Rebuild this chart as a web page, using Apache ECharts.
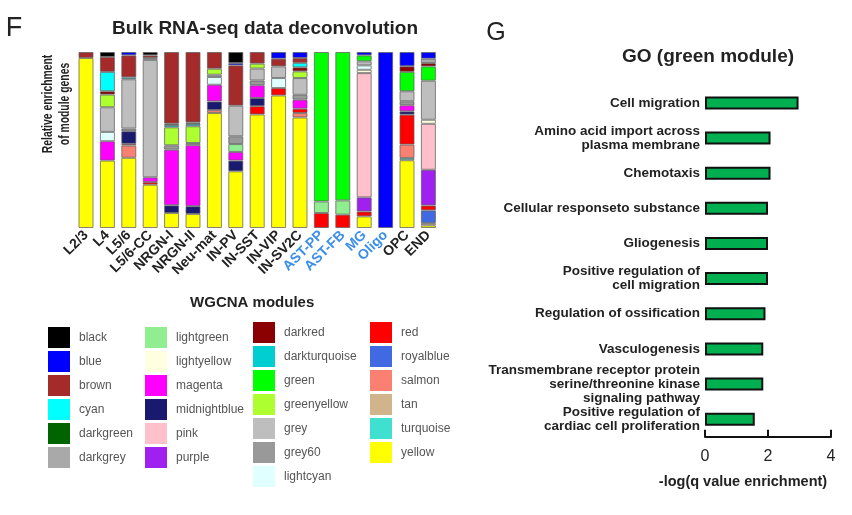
<!DOCTYPE html>
<html><head><meta charset="utf-8">
<script src="https://cdn.jsdelivr.net/npm/echarts@6/dist/echarts.min.js"></script>
<style>html,body{margin:0;padding:0;background:#fff}#c{width:852px;height:515px}</style>
</head><body><div id="c"></div>
<script>
// ---- Panel F data: relative enrichment (%) of each WGCNA module per cell type ----
const cellTypes = ['L2/3','L4','L5/6','L5/6-CC','NRGN-I','NRGN-II','Neu-mat','IN-PV','IN-SST','IN-VIP','IN-SV2C','AST-PP','AST-FB','MG','Oligo','OPC','END'];
const glialLabels = ['AST-PP','AST-FB','MG','Oligo'];
//                    L2/3  L4   L5/6 L5/6CC NRGN-I NRGN-II Neu  PV   SST  VIP  SV2C AST-PP AST-FB MG  Oligo OPC  END
const black         = [0,   2.8, 0,   1.9,  0,     0,      0,   6.3, 0,   0,   0,   0,     0,     0,   0,    0,   0];
const blue          = [0,   0,   1.9, 0,    0,     0,      0,   1.3, 0,   3.8, 3.4, 0,     0,     1.9, 100,  8.1, 3.8];
const brown         = [3.4, 8.5, 12.5,1.5,  40.7,  40.0,   9.5, 22.9,6.6, 4.4, 2.8, 0,     0,     0,   0,    0,   0];
const cyan          = [0,   11.0,0,   0,    0,     0,      0,   0,   0,   0,   2.5, 0,     0,     0,   0,    0,   0];
const darkgreen     = [0,   0,   0,   0,    0.8,   0.9,    0,   0,   0,   0,   0,   0,     0,     0,   0,    0,   0];
const darkgrey      = [0,   0,   0,   1.1,  0,     0,      0,   0,   0,   0,   0,   0,     0,     0,   0,    0,   2.5];
const darkred       = [0,   1.9, 0,   0,    0,     0,      0,   0,   0,   0,   2.3, 0,     0,     0,   0,    3.2, 1.9];
const darkturquoise = [0,   0,   1.1, 0,    1.3,   1.3,    0,   0,   0,   0,   0,   0,     0,     0,   0,    0,   0];
const green         = [0,   0,   0,   0,    0,     0,      0,   0,   0,   0,   0,   84.9,  84.3,  3.4, 0,    11.0,8.1];
const greenyellow   = [0,   7.2, 0,   0,    10.2,  9.5,    3.4, 0,   2.8, 0,   3.8, 0,     0,     0,   0,    0,   0];
const grey          = [0,   14.0,28.0,66.7, 0,     0,      1.3, 17.4,6.8, 6.6, 9.5, 0,     0,     2.3, 0,    5.7, 22.2];
const grey60        = [0,   0,   1.5, 0,    2.5,   1.3,    0,   4.4, 2.7, 0,   2.8, 0,     0,     0,   0,    2.3, 0];
const lightcyan     = [0,   5.3, 0,   0,    0,     0,      4.4, 0,   0,   5.7, 0,   0,     0,     2.5, 0,    0,   0];
const lightgreen    = [0,   0,   0,   0,    0,     0,      0,   4.5, 0,   0,   0,   6.6,   8.1,   0,   0,    0,   0];
const lightyellow   = [0,   0,   0,   0,    0,     0,      0,   0,   0,   0,   0,   0,     0,     1.9, 0,    0,   2.3];
const magenta       = [0,   11.0,0,   2.7,  31.6,  34.6,   9.5, 4.9, 7.2, 0,   5.1, 0,     0,     0,   0,    3.4, 0];
const midnightblue  = [0,   0,   7.2, 0,    4.4,   4.4,    4.9, 6.1, 4.7, 0,   0,   0,     0,     0,   0,    1.9, 0];
const pink          = [0,   0,   0,   0,    0,     0,      0,   0,   0,   0,   0,   0,     0,     70.6,0,    0,   26.1];
const purple        = [0,   0,   0,   0,    0,     0,      0,   0,   0,   0,   0,   0,     0,     8.0, 0,    0,   20.3];
const red           = [0,   0,   0.9, 1.5,  0,     0,      0,   0,   4.7, 4.2, 2.5, 8.5,   7.6,   2.8, 0,    17.0,2.8];
const royalblue     = [0,   0,   0,   0,    0,     0,      0,   0,   0,   0,   0,   0,     0,     0,   0,    0,   7.2];
const salmon        = [0,   0,   7.0, 0,    0,     0,      1.7, 0,   0,   0,   2.5, 0,     0,     0,   0,    7.6, 0];
const tan           = [0,   0,   0,   0,    0,     0,      0,   0,   0,   0,   0,   0,     0,     0,   0,    0,   1.3];
const turquoise     = [0,   0,   0,   0,    0,     0,      0,   0,   0,   0,   0,   0,     0,     0,   0,    1.3, 0];
const yellow        = [96.6,38.3,39.9,24.6, 8.5,   8.0,    65.3,32.2,64.5,75.3,62.8,0,     0,     6.6, 0,    38.5,1.5];

const moduleNames = ['black','blue','brown','cyan','darkgreen','darkgrey','darkred','darkturquoise','green','greenyellow','grey','grey60','lightcyan','lightgreen','lightyellow','magenta','midnightblue','pink','purple','red','royalblue','salmon','tan','turquoise','yellow'];
const moduleColors = ['#000000','#0000FF','#A52A2A','#00FFFF','#006400','#A9A9A9','#8B0000','#00CED1','#00FF00','#ADFF2F','#BEBEBE','#999999','#E0FFFF','#90EE90','#FFFFE0','#FF00FF','#191970','#FFC0CB','#A020F0','#FF0000','#4169E1','#FA8072','#D2B48C','#40E0D0','#FFFF00'];
const legendCol1 = ['black','blue','brown','cyan','darkgreen','darkgrey'];
const legendCol2 = ['lightgreen','lightyellow','magenta','midnightblue','pink','purple'];
const legendCol3 = ['darkred','darkturquoise','green','greenyellow','grey','grey60','lightcyan'];
const legendCol4 = ['red','royalblue','salmon','tan','turquoise','yellow'];

// ---- Panel G data ----
const goTerms = ['Cell migration','Amino acid import across\nplasma membrane','Chemotaxis','Cellular responseto substance','Gliogenesis','Positive regulation of\ncell migration','Regulation of ossification','Vasculogenesis','Transmembrane receptor protein\nserine/threonine kinase\nsignaling pathway','Positive regulation of\ncardiac cell proliferation'];
const goValues = [2.97, 2.08, 2.08, 2.0, 2.0, 2.0, 1.92, 1.85, 1.85, 1.58];

const moduleData = {black,blue,brown,cyan,darkgreen,darkgrey,darkred,darkturquoise,green,greenyellow,grey,grey60,lightcyan,lightgreen,lightyellow,magenta,midnightblue,pink,purple,red,royalblue,salmon,tan,turquoise,yellow};

const FONT = "'Liberation Sans', Arial, Helvetica, sans-serif";
const chart = echarts.init(document.getElementById('c'), null, {renderer:'canvas'});

// stack bottom-to-top: yellow first, black last
const stackSeries = moduleNames.slice().reverse().map(name => ({
  name, type:'bar', stack:'mods', xAxisIndex:0, yAxisIndex:0, barWidth:15,
  itemStyle:{color: moduleColors[moduleNames.indexOf(name)], borderColor:'rgba(95,95,95,0.75)', borderWidth:1},
  emphasis:{disabled:true},
  data: moduleData[name].map(v => v === 0 ? '-' : v)
}));

const legendCols = [legendCol1, legendCol2, legendCol3, legendCol4];
const legendPos = [[48,327],[145,327],[253,322],[370,322]];

const option = {
  animation:false,
  textStyle:{fontFamily:FONT},
  grid:[
    {left:75.3, width:363.8, top:52, height:176},
    {left:705, right:21, top:85.4, bottom:78.3}
  ],
  legend: legendCols.map((col,i) => ({
    data: col, orient:'vertical', left:legendPos[i][0], top:legendPos[i][1], padding:0,
    itemWidth:22, itemHeight:21, itemGap:3, icon:'rect', selectedMode:false,
    itemStyle:{borderWidth:0},
    textStyle:{fontSize:12, color:'#555', fontFamily:FONT, padding:[0,0,0,4]}
  })),
  xAxis:[
    {gridIndex:0, type:'category', data:cellTypes,
     axisLine:{show:false}, axisTick:{show:false},
     axisLabel:{interval:0, rotate:45, fontSize:14, fontWeight:'bold', margin:5, fontFamily:FONT,
       color:(v) => glialLabels.indexOf(v) >= 0 ? '#3b8eea' : '#222'},
     name:'WGCNA modules', nameLocation:'middle', nameGap:67,
     nameTextStyle:{fontSize:15, fontWeight:'bold', color:'#222', fontFamily:FONT, padding:[0,10,0,0]}},
    {gridIndex:1, type:'value', min:0, max:4, interval:2,
     axisLine:{show:true, lineStyle:{color:'#111', width:2}},
     axisTick:{show:true, inside:true, length:7, lineStyle:{color:'#111', width:2}},
     splitLine:{show:false},
     axisLabel:{fontSize:16, color:'#222', margin:12, fontFamily:FONT},
     name:'-log(q value enrichment)', nameLocation:'middle', nameGap:38,
     nameTextStyle:{fontSize:14.5, fontWeight:'bold', color:'#222', fontFamily:FONT, padding:[0,50,0,0]}}
  ],
  yAxis:[
    {gridIndex:0, type:'value', min:0, max:100, show:false},
    {gridIndex:1, type:'category', data:goTerms, inverse:true,
     axisLine:{show:false}, axisTick:{show:false},
     axisLabel:{interval:0, hideOverlap:false, fontSize:13.5, fontWeight:'bold', color:'#222', margin:5, lineHeight:14, fontFamily:FONT}}
  ],
  series: stackSeries.concat([{
    name:'GO', type:'bar', xAxisIndex:1, yAxisIndex:1, barWidth:13,
    itemStyle:{color:'#00b050', borderColor:'#111', borderWidth:2},
    emphasis:{disabled:true},
    data: goValues
  }]),
  graphic:[
    {type:'text', x:14, y:29, style:{text:'F', fontSize:27, fill:'#222', fontFamily:FONT, align:'center', verticalAlign:'middle'}},
    {type:'text', x:265, y:29, style:{text:'Bulk RNA-seq data deconvolution', fontSize:19, fontWeight:'bold', fill:'#222', fontFamily:FONT, align:'center', verticalAlign:'middle'}},
    {type:'text', x:57, y:104, rotation:Math.PI/2, scaleX:0.74,
     style:{text:'Relative enrichment\nof module genes', fontSize:14, fontWeight:'bold', fill:'#222', fontFamily:FONT, align:'center', verticalAlign:'middle', lineHeight:17}},
    {type:'text', x:496, y:33, style:{text:'G', fontSize:25, fill:'#222', fontFamily:FONT, align:'center', verticalAlign:'middle'}},
    {type:'text', x:708, y:57, style:{text:'GO (green module)', fontSize:19, fontWeight:'bold', fill:'#222', fontFamily:FONT, align:'center', verticalAlign:'middle'}}
  ]
};
chart.setOption(option);
</script>
</body></html>
